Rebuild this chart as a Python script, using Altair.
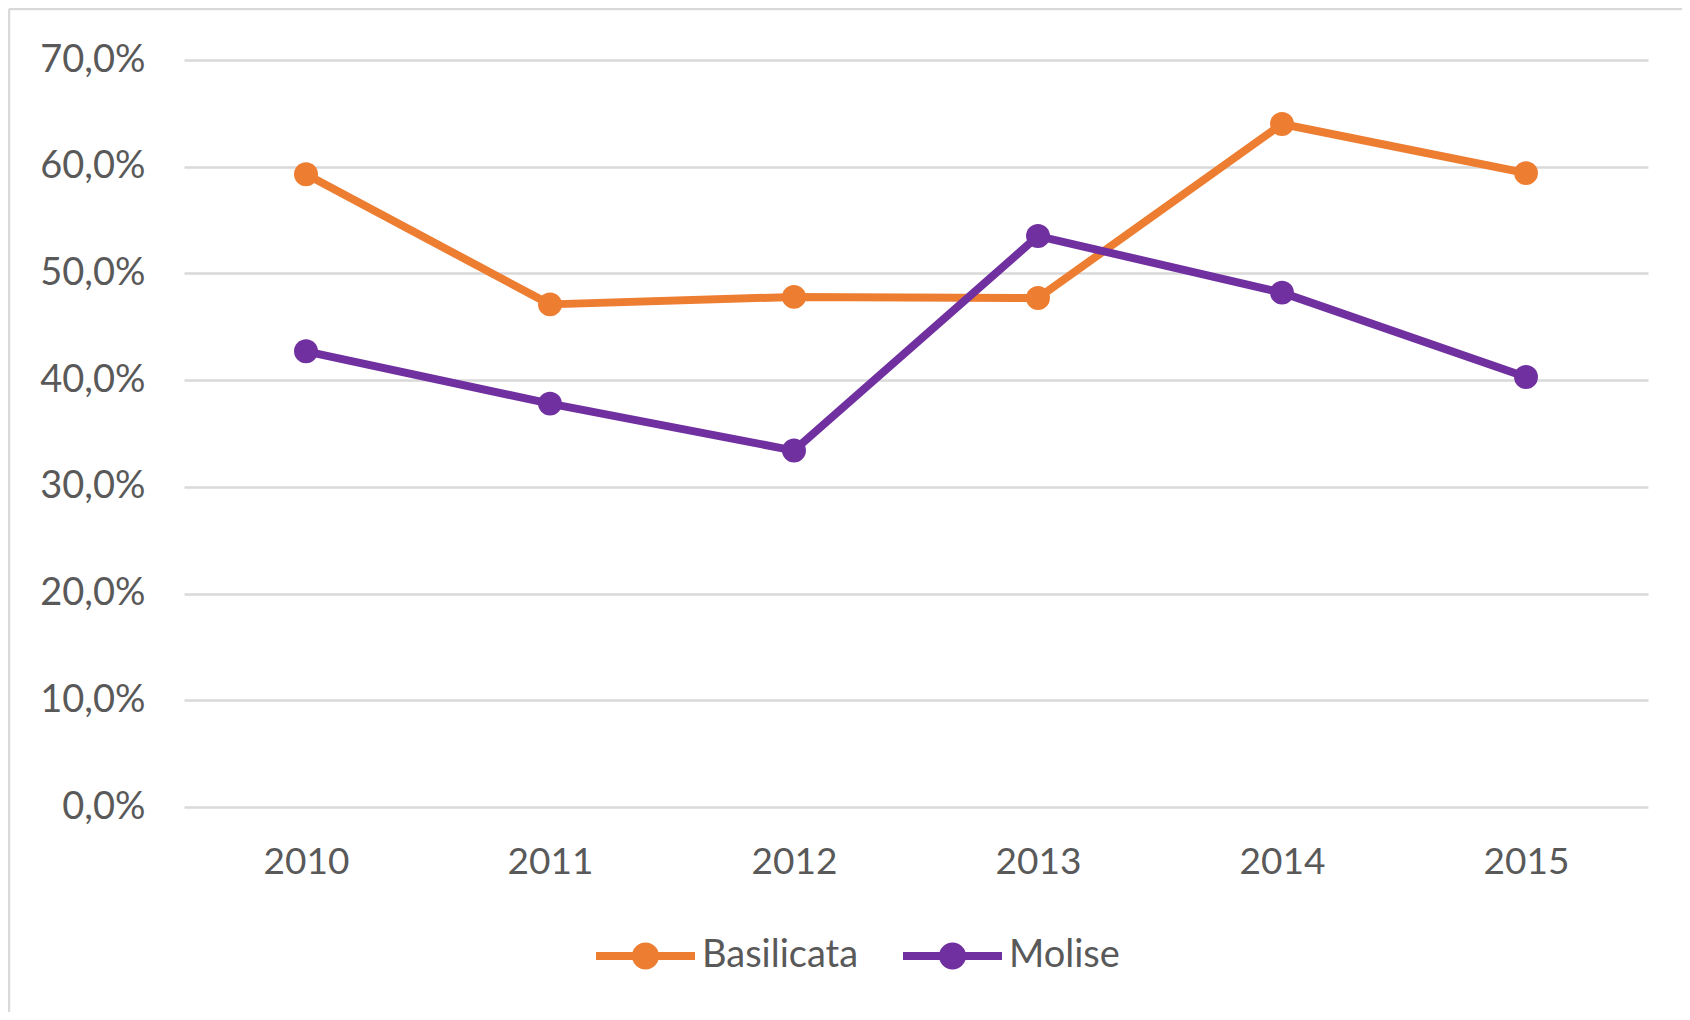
import altair as alt
import pandas as pd

years = ["2010", "2011", "2012", "2013", "2014", "2015"]
basilicata = [59.3, 47.1, 47.8, 47.7, 64.0, 59.4]
molise = [42.7, 37.8, 33.4, 53.5, 48.2, 40.3]
series_names = ["Basilicata", "Molise"]
series_colors = ["#ED7D31", "#7030A0"]
y_ticks = [0, 10, 20, 30, 40, 50, 60, 70]

rows = []
for name, vals in zip(series_names, [basilicata, molise]):
    for y, v in zip(years, vals):
        rows.append({"Anno": y, "Valore": v, "Serie": name})
df = pd.DataFrame(rows)

FONT = "Lato"
TXT = "#595959"
GRID = "#D9D9D9"

W, H = 1464, 747

color = alt.Color(
    "Serie:N",
    scale=alt.Scale(domain=series_names, range=series_colors),
    legend=alt.Legend(
        title=None,
        orient="none",
        direction="horizontal",
        legendX=408,
        legendY=842,
        symbolType="M-1,0 H1 M0.192,0 A0.192,0.192 0 1,1 -0.192,0 A0.192,0.192 0 1,1 0.192,0 Z",
        symbolSize=9801,
        symbolStrokeWidth=8,
        symbolOpacity=1,
        labelFont=FONT,
        labelFontSize=38,
        labelColor=TXT,
        labelOffset=3,
        columnPadding=28,
    ),
)

base = alt.Chart(df).encode(
    x=alt.X(
        "Anno:O",
        title=None,
        scale=alt.Scale(domain=years, padding=0.5),
        axis=alt.Axis(
            labelAngle=0,
            labelFont=FONT,
            labelFontSize=37,
            labelColor=TXT,
            labelPadding=37,
            ticks=False,
            domain=False,
            grid=False,
        ),
    ),
    y=alt.Y(
        "Valore:Q",
        title=None,
        scale=alt.Scale(domain=[0, 70], nice=False),
        axis=alt.Axis(
            values=y_ticks,
            labelExpr="replace(format(datum.value, '.1f'), '.', ',') + '%'",
            labelFont=FONT,
            labelFontSize=38,
            labelColor=TXT,
            labelPadding=39,
            ticks=False,
            domain=False,
            grid=True,
            gridColor=GRID,
            gridWidth=2.5,
        ),
    ),
    color=color,
)

lines = base.mark_line(strokeWidth=8, strokeCap="round", strokeJoin="round")
points = base.mark_circle(size=572, opacity=1)

border_df = pd.DataFrame({"k": [0]})
border_left = alt.Chart(border_df).mark_rule(color=GRID, strokeWidth=2.5).encode(
    x=alt.value(-175), x2=alt.value(-175), y=alt.value(-51), y2=alt.value(1100)
)
border_top = alt.Chart(border_df).mark_rule(color=GRID, strokeWidth=2.5).encode(
    x=alt.value(-175), x2=alt.value(1700), y=alt.value(-51), y2=alt.value(-51)
)

chart = (
    alt.layer(border_left, border_top, lines, points)
    .properties(
        width=W,
        height=H,
        autosize=alt.AutoSizeParams(type="none"),
        padding={"left": 176, "top": 52, "right": 34, "bottom": 205},
    )
    .configure(background="white")
    .configure_view(stroke=None)
)

chart.save("out.html", embed_options={"renderer": "svg", "actions": False})
